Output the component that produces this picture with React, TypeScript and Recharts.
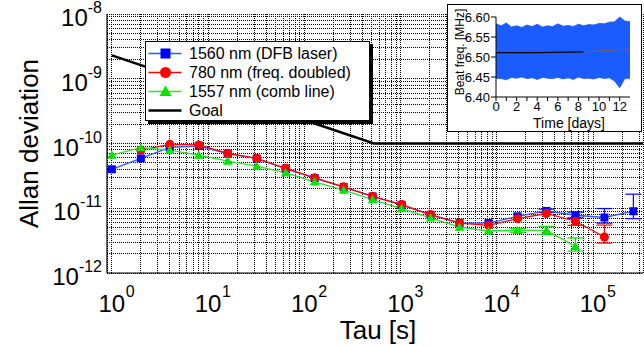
import React from 'react';
import { ComposedChart, Line, Area, XAxis, YAxis, CartesianGrid, ErrorBar, Legend, Label } from 'recharts';

const FONT = '"Liberation Sans", Arial, Helvetica, sans-serif';

// averaging times [s]
const tau = [1, 2, 4, 8, 16, 32, 64, 128, 256, 512, 1024, 2048, 4096, 8192, 16384, 32768, 65536, 131072, 262144];

// 1560 nm (DFB laser)
const dfb = [4.0e-11, 5.9e-11, 8.7e-11, 9.15e-11, 7.0e-11, 5.85e-11, 4.1e-11, 2.93e-11, 2.12e-11, 1.52e-11, 1.13e-11, 7.9e-12, 5.9e-12, 5.9e-12, 7.5e-12, 9.1e-12, 7.8e-12, 7.2e-12, 9.0e-12];
const dfbErr: ([number, number] | null)[] = [null, null, null, null, null, null, null, null, null, null, null, null, null, null, null, [0.5e-12, 0.6e-12], [0.8e-12, 0.9e-12], [1.3e-12, 2.7e-12], [2.1e-12, 7.5e-12]];

// 780 nm (freq. doubled), starts at tau = 2
const doubledTau = [2, 4, 8, 16, 32, 64, 128, 256, 512, 1024, 2048, 4096, 8192, 16384, 32768, 65536, 131072];
const doubled = [7.9e-11, 9.7e-11, 9.5e-11, 7.05e-11, 5.9e-11, 4.13e-11, 2.95e-11, 2.14e-11, 1.53e-11, 1.14e-11, 8.0e-12, 5.9e-12, 5.45e-12, 6.9e-12, 8.3e-12, 6.3e-12, 3.6e-12];
const doubledErr: ([number, number] | null)[] = [null, null, null, null, null, null, null, null, null, null, null, null, null, null, null, [0.85e-12, 0.9e-12], [0.7e-12, 1.9e-12]];

// 1557 nm (comb line)
const combTau = [1, 2, 4, 8, 16, 32, 64, 128, 256, 512, 1024, 2048, 4096, 8192, 16384, 32768, 65536];
const comb = [6.6e-11, 8.6e-11, 7.9e-11, 6.6e-11, 5.36e-11, 4.48e-11, 3.53e-11, 2.56e-11, 1.9e-11, 1.36e-11, 9.9e-12, 7.1e-12, 5.1e-12, 4.45e-12, 4.56e-12, 4.56e-12, 2.58e-12];
const combErr: ([number, number] | null)[] = [null, null, null, null, null, null, null, null, null, null, null, null, null, null, [0.3e-12, 0.3e-12], [0.6e-12, 0.7e-12], [0.4e-12, 0.9e-12]];

// Goal
const goalTau = [1, 529, 330000];
const goalVal = [2.3e-9, 1e-10, 1e-10];

// log grid
const xDecades = [1, 10, 100, 1e3, 1e4, 1e5];
const yDecades = [1e-12, 1e-11, 1e-10, 1e-9];
const minorSteps = [1, 2, 3, 4, 5, 6, 7, 8, 9];
const X_DOMAIN: [number, number] = [0.89, 3.3e5];
const Y_DOMAIN: [number, number] = [1e-12, 1e-8];
const xTicks = xDecades.flatMap((d) => minorSteps.map((m) => m * d)).filter((v) => v <= X_DOMAIN[1]);
const yTicks = [...yDecades.flatMap((d) => minorSteps.map((m) => m * d)), 1e-8];

// inset: beat frequency vs time
const insetDays = [0, 0.5, 1, 1.5, 2, 2.5, 3, 3.5, 4, 4.5, 5, 5.5, 6, 6.5, 7, 7.5, 8, 8.5, 9, 9.5, 10, 10.5, 11, 11.5, 12, 12.5, 13];
const bandHigh = [6.583, 6.578, 6.585, 6.575, 6.578, 6.574, 6.58, 6.576, 6.582, 6.575, 6.578, 6.576, 6.583, 6.577, 6.579, 6.576, 6.582, 6.578, 6.581, 6.58, 6.584, 6.583, 6.587, 6.588, 6.6, 6.59, 6.588];
const bandLow = [6.447, 6.446, 6.443, 6.449, 6.447, 6.45, 6.446, 6.448, 6.444, 6.449, 6.447, 6.446, 6.449, 6.445, 6.448, 6.444, 6.45, 6.446, 6.447, 6.445, 6.449, 6.446, 6.448, 6.44, 6.423, 6.446, 6.447];
const meanDays = [0, 4, 8.5];
const meanVals = [6.511, 6.511, 6.513];
const trendDays = [8.5, 13];
const trendVals = [6.513, 6.52];
const insetYTicks = [6.4, 6.45, 6.5, 6.55, 6.6];
const insetXTicks = [0, 1, 2, 3, 4, 5, 6, 7, 8, 9, 10, 11, 12];

const BLUE = '#0000ff';
const BLUE_LINE = '#3355ff';
const RED = '#ff0000';
const GREEN = '#00e600';
const GREEN_LINE = '#33dd33';

const dfbData = tau.map((t, i) => ({ t, v: dfb[i], err: dfbErr[i] ?? undefined }));
const doubledData = doubledTau.map((t, i) => ({ t, v: doubled[i], err: doubledErr[i] ?? undefined }));
const combData = combTau.map((t, i) => ({ t, v: comb[i], err: combErr[i] ?? undefined }));
const goalData = goalTau.map((t, i) => ({ t, v: goalVal[i] }));
const bandData = insetDays.map((d, i) => ({ d, band: [bandLow[i], bandHigh[i]] }));
const meanData = meanDays.map((d, i) => ({ d, m: meanVals[i] }));
const trendData = trendDays.map((d, i) => ({ d, m: trendVals[i] }));

const legendItems = [
  { label: '1560 nm (DFB laser)', line: BLUE_LINE, marker: 'square', color: BLUE },
  { label: '780 nm (freq. doubled)', line: RED, marker: 'circle', color: RED },
  { label: '1557 nm (comb line)', line: GREEN_LINE, marker: 'triangle', color: GREEN },
  { label: 'Goal', line: '#000', marker: 'none', color: '#000' },
];

const isDecade = (v: number) => Math.abs(Math.log10(v) - Math.round(Math.log10(v))) < 1e-6;

const Marker = ({ kind, cx, cy, color, s }: { kind: string; cx: number; cy: number; color: string; s: number }) => {
  if (kind === 'square') return <rect x={cx - s / 2} y={cy - s / 2} width={s} height={s} fill={color} />;
  if (kind === 'circle') return <circle cx={cx} cy={cy} r={s / 2 + 0.5} fill={color} />;
  if (kind === 'triangle')
    return <polygon points={`${cx},${cy - s * 0.6} ${cx - s * 0.6},${cy + s * 0.45} ${cx + s * 0.6},${cy + s * 0.45}`} fill={color} />;
  return null;
};

const dotOf = (kind: string, color: string) => (p: any) => (
  <g key={p.key ?? `dot-${p.index}`}>
    <Marker kind={kind} cx={p.cx} cy={p.cy} color={color} s={8} />
  </g>
);

const XTick = ({ x, y, payload }: any) => {
  if (!isDecade(payload.value)) return <g />;
  const e = Math.round(Math.log10(payload.value));
  return (
    <g fontFamily={FONT} fill="#000">
      <text x={x} y={y + 39} textAnchor="middle" fontSize={24}>10</text>
      <text x={x + 14} y={y + 24} fontSize={16}>{e}</text>
    </g>
  );
};

const YTick = ({ x, y, payload }: any) => {
  if (!isDecade(payload.value)) return <g />;
  const e = Math.round(Math.log10(payload.value));
  return (
    <text x={x - 5} y={y + 12} textAnchor="end" fontFamily={FONT} fontSize={24} fill="#000">
      10<tspan dy={-13} fontSize={16}>{e}</tspan>
    </text>
  );
};

const renderLegend = () => (
  <div
    style={{
      width: 225,
      height: 80,
      boxSizing: 'border-box',
      border: '1.5px solid #000',
      background: '#fff',
      boxShadow: '3px 3px 0 #000',
      paddingTop: 2,
      fontFamily: FONT,
      fontSize: 16,
      color: '#000',
    }}
  >
    {legendItems.map((it) => (
      <div key={it.label} style={{ display: 'flex', alignItems: 'center', height: 19, whiteSpace: 'nowrap' }}>
        <svg width={43} height={19} style={{ flex: 'none' }}>
          <line x1={2.5} x2={35.5} y1={9.5} y2={9.5} stroke={it.line} strokeWidth={it.marker === 'none' ? 2.5 : 1.5} />
          <Marker kind={it.marker} cx={19.5} cy={9.5} color={it.color} s={10} />
        </svg>
        <span>{it.label}</span>
      </div>
    ))}
  </div>
);

const Inset = () => (
  <div style={{ position: 'absolute', left: 447, top: 4, width: 193, height: 126, border: '1px solid #000', background: '#fff', zIndex: 5 }}>
    <ComposedChart width={193} height={126} margin={{ top: 12, right: 11, bottom: 0, left: 0 }}>
      <XAxis
        dataKey="d"
        type="number"
        domain={[0, 13]}
        ticks={insetXTicks}
        interval={0}
        tickFormatter={(v: number) => (v % 2 === 0 ? String(v) : '')}
        tick={{ fontSize: 13, fill: '#000', fontFamily: FONT }}
        tickSize={4}
        tickMargin={1}
        tickLine={{ stroke: '#000' }}
        axisLine={{ stroke: '#000' }}
        height={34}
      >
        <Label
          content={({ viewBox }: any) => (
            <text x={viewBox.x + viewBox.width / 2 + 6} y={viewBox.y + 31} textAnchor="middle" fontFamily={FONT} fontSize={14} fill="#000">
              Time [days]
            </text>
          )}
        />
      </XAxis>
      <XAxis xAxisId="top" orientation="top" type="number" domain={[0, 13]} height={0} tick={false} tickLine={false} axisLine={{ stroke: '#000' }} />
      <YAxis
        type="number"
        domain={[6.4, 6.6]}
        ticks={insetYTicks}
        interval={0}
        tickFormatter={(v: number) => v.toFixed(2)}
        tick={{ fontSize: 13, fill: '#000', fontFamily: FONT }}
        tickSize={5}
        tickMargin={1}
        tickLine={{ stroke: '#000' }}
        axisLine={{ stroke: '#000' }}
        width={48}
      >
        <Label
          content={({ viewBox }: any) => {
            const cx = 16;
            const cy = viewBox.y + viewBox.height / 2 - 5;
            return (
              <text x={cx} y={cy} transform={`rotate(-90 ${cx} ${cy})`} textAnchor="middle" fontFamily={FONT} fontSize={12} fill="#000">
                Beat freq. [MHz]
              </text>
            );
          }}
        />
      </YAxis>
      <YAxis yAxisId="right" orientation="right" type="number" domain={[6.4, 6.6]} width={0} tick={false} tickLine={false} axisLine={{ stroke: '#000' }} />
      <Area data={bandData} dataKey="band" type="linear" stroke="#1a5cff" strokeWidth={0.8} fill="#1a5cff" fillOpacity={1} isAnimationActive={false} />
      <Line data={meanData} dataKey="m" type="linear" stroke="#000" strokeWidth={1.2} dot={false} isAnimationActive={false} />
      <Line data={trendData} dataKey="m" type="linear" stroke="#666" strokeWidth={1.2} dot={false} isAnimationActive={false} />
    </ComposedChart>
  </div>
);

export default function App() {
  return (
    <div style={{ position: 'absolute', left: 0, top: 0, width: 644, height: 346, background: '#fff' }}>
      <ComposedChart width={644} height={346} margin={{ top: 14, right: 1, bottom: 0, left: 0 }}>
        <CartesianGrid stroke="#000" strokeDasharray="1 1" strokeWidth={1} shapeRendering="crispEdges" />
        <XAxis
          dataKey="t"
          type="number"
          scale="log"
          domain={X_DOMAIN}
          allowDataOverflow
          ticks={xTicks}
          interval={0}
          tick={XTick}
          tickLine={false}
          tickSize={0}
          tickMargin={0}
          height={73}
          axisLine={{ stroke: '#000', strokeWidth: 1.2 }}
        >
          <Label
            content={({ viewBox }: any) => (
              <text x={viewBox.x + viewBox.width / 2 + 3} y={viewBox.y + 66} textAnchor="middle" fontFamily={FONT} fontSize={26} fill="#000">
                Tau [s]
              </text>
            )}
          />
        </XAxis>
        <XAxis xAxisId="top" orientation="top" type="number" scale="log" domain={X_DOMAIN} allowDataOverflow height={0} tick={false} tickLine={false} axisLine={{ stroke: '#000', strokeWidth: 1.2 }} />
        <YAxis
          type="number"
          scale="log"
          domain={Y_DOMAIN}
          allowDataOverflow
          ticks={yTicks}
          interval={0}
          tick={YTick}
          tickLine={false}
          tickSize={0}
          tickMargin={0}
          width={107}
          axisLine={{ stroke: '#000', strokeWidth: 1.2 }}
        >
          <Label
            content={({ viewBox }: any) => {
              const cx = 38;
              const cy = viewBox.y + viewBox.height / 2;
              return (
                <text x={cx} y={cy} transform={`rotate(-90 ${cx} ${cy})`} textAnchor="middle" fontFamily={FONT} fontSize={26} fill="#000">
                  Allan deviation
                </text>
              );
            }}
          />
        </YAxis>
        <Line data={goalData} dataKey="v" type="linear" stroke="#000" strokeWidth={2.5} dot={false} isAnimationActive={false} />
        <Line data={dfbData} dataKey="v" type="linear" stroke={BLUE_LINE} strokeWidth={1.3} dot={dotOf('square', BLUE)} isAnimationActive={false}>
          <ErrorBar dataKey="err" direction="y" width={8} stroke={BLUE} strokeWidth={1.2} />
        </Line>
        <Line data={doubledData} dataKey="v" type="linear" stroke={RED} strokeWidth={1.3} dot={dotOf('circle', RED)} isAnimationActive={false}>
          <ErrorBar dataKey="err" direction="y" width={8} stroke={RED} strokeWidth={1.2} />
        </Line>
        <Line data={combData} dataKey="v" type="linear" stroke={GREEN_LINE} strokeWidth={1.3} dot={dotOf('triangle', GREEN)} isAnimationActive={false}>
          <ErrorBar dataKey="err" direction="y" width={8} stroke={GREEN} strokeWidth={1.2} />
        </Line>
        <Legend
          layout="vertical"
          align="center"
          verticalAlign="middle"
          wrapperStyle={{ left: 145, top: 41, width: 228 }}
          content={renderLegend}
        />
      </ComposedChart>
      <Inset />
    </div>
  );
}
